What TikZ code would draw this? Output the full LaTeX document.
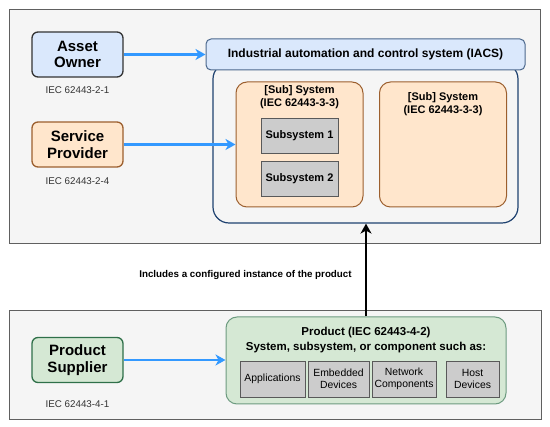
\documentclass[tikz,border=0pt]{standalone}
\usepackage{fontspec}
\setmainfont{Liberation Sans}
\usetikzlibrary{arrows.meta}
\definecolor{panelgray}{HTML}{F5F5F5}
\definecolor{bluefill}{HTML}{DAE8FC}
\definecolor{orangefill}{HTML}{FFE6CC}
\definecolor{greenfill}{HTML}{D5E8D4}
\definecolor{boxgray}{HTML}{CCCCCC}
\definecolor{brownline}{HTML}{9C5F2E}
\definecolor{greenline}{HTML}{2F7049}
\definecolor{navyline}{HTML}{1F4270}
\definecolor{flowblue}{HTML}{3399FF}

\begin{document}
\begin{tikzpicture}[x=1pt,y=-1pt,
  panel/.style={draw=gray!75!black,fill=panelgray,line width=0.8pt,inner sep=0pt},
  actor/.style={rounded corners=6pt,line width=1.3pt,minimum width=91pt,minimum height=45pt,
    align=center,inner sep=0pt,font=\bfseries\fontsize{15}{16.5}\selectfont},
  stdlabel/.style={font=\fontsize{9.8}{11}\selectfont,text=black!80},
  sysbox/.style={draw=brownline,fill=orangefill,rounded corners=11pt,line width=1pt,
    minimum width=127pt,minimum height=125pt,inner sep=0pt},
  systext/.style={align=center,font=\bfseries\fontsize{11}{13}\selectfont},
  part/.style={draw=gray!70!black,fill=boxgray,line width=0.8pt,inner sep=0pt,
    minimum width=77pt,minimum height=35pt,font=\bfseries\fontsize{11}{12}\selectfont},
  comp/.style={draw=gray!70!black,fill=boxgray,line width=0.8pt,inner sep=0pt,
    minimum height=36pt,align=center,font=\fontsize{10.4}{12.5}\selectfont},
  flow/.style={draw=flowblue,line width=2.5pt,-{Stealth[length=10pt,width=11pt,inset=3pt]}}]
\useasboundingbox (0,0) rectangle (550,427);

% the two panels
\node[panel,minimum width=531pt,minimum height=234pt] (owners) at (274.5,126) {};
\node[panel,minimum width=532pt,minimum height=109pt] (suppliers) at (275,364.5) {};

% actors and their standards
\node[actor,draw=black!80,fill=bluefill] (owner) at (77.5,54.5) {Asset\\Owner};
\node[stdlabel] (ownerstd) at (77.5,90) {IEC 62443-2-1};
\node[actor,draw=brownline,fill=orangefill] (provider) at (77.5,144.5) {Service\\Provider};
\node[stdlabel] (providerstd) at (77.5,181) {IEC 62443-2-4};
\node[actor,draw=greenline,fill=greenfill] (supplier) at (77.5,360) {Product\\Supplier};
\node[stdlabel] (supplierstd) at (77.5,404) {IEC 62443-4-1};

% IACS
\node[draw=navyline,line width=1.2pt,rounded corners=16pt,minimum width=305pt,minimum height=160pt,inner sep=0pt] (iacs) at (365.5,143) {};
\node[draw=navyline!80,fill=bluefill,line width=1pt,rounded corners=5pt,minimum width=319pt,minimum height=31pt,
  inner sep=0pt,font=\bfseries\fontsize{12}{14}\selectfont] (iacshead) at (365.5,54.5) {Industrial automation and control system (IACS)};
\node[sysbox] (sysone) at (299.5,144.5) {};
\node[systext] (sysonetext) at (299.5,97.5) {[Sub] System\\(IEC 62443-3-3)};
\node[part] (subone) at (299.5,135.5) {Subsystem 1};
\node[part] (subtwo) at (299.5,178.5) {Subsystem 2};
\node[sysbox] (systwo) at (443,144.5) {};
\node[systext] (systwotext) at (443,104) {[Sub] System\\(IEC 62443-3-3)};

% product
\node[draw=greenline!70,fill=greenfill,line width=1pt,rounded corners=11pt,minimum width=280pt,minimum height=87pt,inner sep=0pt] (product) at (366,360.5) {};
\node[align=center,font=\bfseries\fontsize{11.5}{15}\selectfont] (producttext) at (366,340.5) {Product (IEC 62443-4-2)\\System, subsystem, or component such as:};
\node[comp,minimum width=65pt] (apps) at (272.5,379) {Applications};
\node[comp,minimum width=61pt] (embedded) at (338.5,379) {Embedded\\Devices};
\node[comp,minimum width=64pt] (network) at (404,379) {Network\\Components};
\node[comp,minimum width=53pt] (host) at (472.5,379) {Host\\Devices};

\node[font=\bfseries\fontsize{9.8}{11}\selectfont] (includes) at (245.5,275) {Includes a configured instance of the product};

% connectors
\draw[flow] (owner.east) -- (owner.east -| iacshead.west);
\draw[flow] (provider.east) -- (provider.east -| sysone.west);
\draw[flow] (supplier.east) -- (supplier.east -| product.west);
\draw[line width=2.5pt,-{Stealth[length=10pt,width=11pt,inset=3pt]}] (product.north) -- (product.north |- iacs.south);
\end{tikzpicture}
\end{document}
